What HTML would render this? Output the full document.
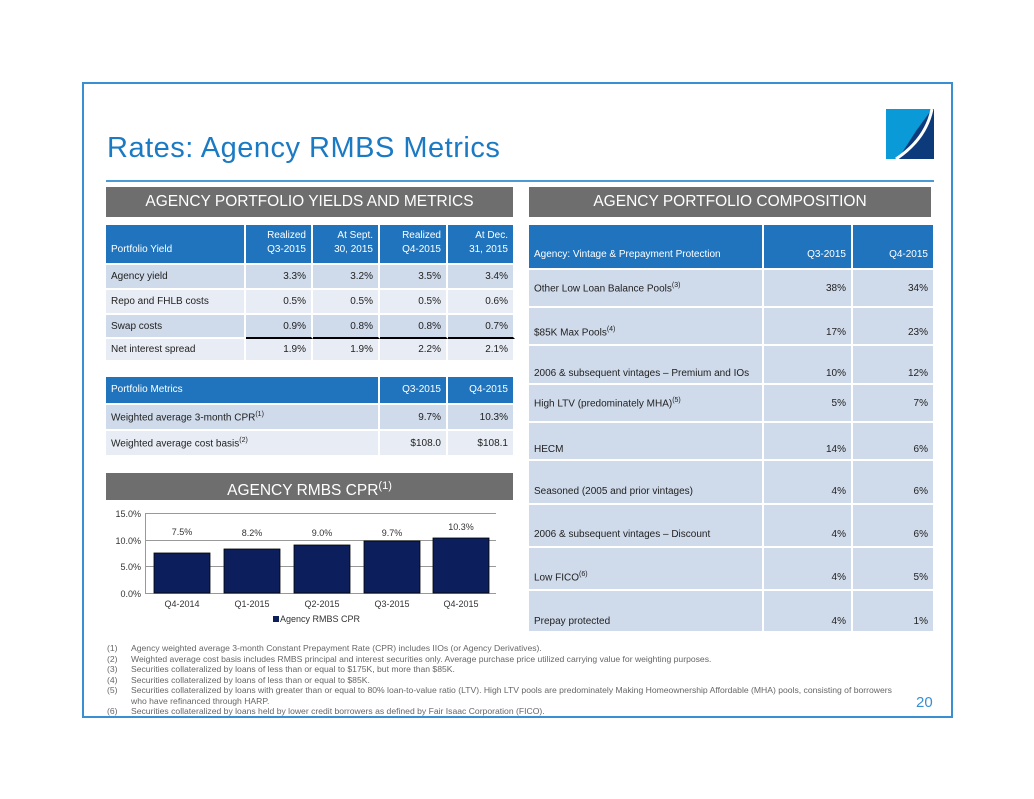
<!DOCTYPE html>
<html><head><meta charset="utf-8"><style>
body{margin:0;width:1034px;height:799px;background:#fff;position:relative;font-family:"Liberation Sans",sans-serif;overflow:hidden}
.a{position:absolute}
.frame{left:82px;top:82px;width:867px;height:632px;border:2px solid #3a8fd0}
.title{left:107px;top:132px;font-size:29px;color:#1a7ac4;letter-spacing:0.5px}
.rule{left:106px;top:180px;width:828px;height:2px;background:#4a9ad6}
.bar{background:#6e6e6e;color:#fff;font-size:15.5px;text-align:center;line-height:30px}
table{border-collapse:separate;border-spacing:0;position:absolute;font-size:10px;color:#222;table-layout:fixed}
td{padding:0 5px;border-right:2px solid #fff;border-bottom:2px solid #fff;text-align:right;white-space:nowrap}
td:first-child{text-align:left}
tr.h td{background:#1f74bd;color:#fff;vertical-align:bottom;padding-bottom:6px;line-height:14px}
tr.d td{background:#cfdaea}
tr.e td{background:#e8edf5}
.fn{left:107px;top:643px;font-size:8.6px;color:#666;line-height:10.5px}
.fn div{position:relative;padding-left:24px}
.fn span{position:absolute;left:0}
</style></head><body>
<div class="a frame"></div>
<div class="a title">Rates: Agency RMBS Metrics</div>
<svg class="a" style="left:886px;top:109px" width="48" height="50"><polygon points="0,0 46,0 46,2 20,50 0,50" fill="#0a9ad8"/><polygon points="46,0 48,0 48,50 12,50 30,22" fill="#0d3a7a"/><path d="M46,0 Q40,30 10,50" stroke="#fff" stroke-width="3" fill="none"/></svg>
<div class="a rule"></div>
<div class="a bar" style="left:106px;top:187px;width:407px;height:30px">AGENCY PORTFOLIO YIELDS AND METRICS</div>
<div class="a bar" style="left:529px;top:187px;width:402px;height:30px">AGENCY PORTFOLIO COMPOSITION</div>
<table style="left:106px;top:225px;width:409px">
<col style="width:140px"><col style="width:67px"><col style="width:67px"><col style="width:68px"><col style="width:67px">
<tr class="h" style="height:40px"><td>Portfolio Yield</td><td>Realized<br>Q3-2015</td><td>At Sept.<br>30, 2015</td><td>Realized<br>Q4-2015</td><td>At Dec.<br>31, 2015</td></tr>
<tr class="d" style="height:25px"><td>Agency yield</td><td>3.3%</td><td>3.2%</td><td>3.5%</td><td>3.4%</td></tr>
<tr class="e" style="height:25px"><td>Repo and FHLB costs</td><td>0.5%</td><td>0.5%</td><td>0.5%</td><td>0.6%</td></tr>
<tr class="d" style="height:24px"><td>Swap costs</td><td style="border-bottom:2px solid #000">0.9%</td><td style="border-bottom:2px solid #000">0.8%</td><td style="border-bottom:2px solid #000">0.8%</td><td style="border-bottom:2px solid #000">0.7%</td></tr>
<tr class="e" style="height:23px"><td>Net interest spread</td><td>1.9%</td><td>1.9%</td><td>2.2%</td><td>2.1%</td></tr>
</table>
<table style="left:106px;top:377px;width:409px">
<col style="width:274px"><col style="width:68px"><col style="width:67px">
<tr class="h" style="height:28px"><td>Portfolio Metrics</td><td>Q3-2015</td><td>Q4-2015</td></tr>
<tr class="d" style="height:26px"><td>Weighted average 3-month CPR<sup style="font-size:7px">(1)</sup></td><td>9.7%</td><td>10.3%</td></tr>
<tr class="e" style="height:26px"><td>Weighted average cost basis<sup style="font-size:7px">(2)</sup></td><td>$108.0</td><td>$108.1</td></tr>
</table>
<table style="left:529px;top:225px;width:406px">
<col style="width:235px"><col style="width:89px"><col style="width:82px">
<tr class="h" style="height:45px"><td>Agency: Vintage &amp; Prepayment Protection</td><td>Q3-2015</td><td>Q4-2015</td></tr>
<tr class="d" style="height:38px"><td>Other Low Loan Balance Pools<sup style="font-size:7px">(3)</sup></td><td>38%</td><td>34%</td></tr>
<tr class="d" style="height:38px"><td style="vertical-align:bottom;padding-bottom:6px">$85K Max Pools<sup style="font-size:7px">(4)</sup></td><td style="vertical-align:bottom;padding-bottom:6px">17%</td><td style="vertical-align:bottom;padding-bottom:6px">23%</td></tr>
<tr class="d" style="height:39px"><td style="vertical-align:bottom;padding-bottom:4px">2006 &amp; subsequent vintages – Premium and IOs</td><td style="vertical-align:bottom;padding-bottom:4px">10%</td><td style="vertical-align:bottom;padding-bottom:4px">12%</td></tr>
<tr class="d" style="height:38px"><td>High LTV (predominately MHA)<sup style="font-size:7px">(5)</sup></td><td>5%</td><td>7%</td></tr>
<tr class="d" style="height:38px"><td style="vertical-align:bottom;padding-bottom:4px">HECM</td><td style="vertical-align:bottom;padding-bottom:4px">14%</td><td style="vertical-align:bottom;padding-bottom:4px">6%</td></tr>
<tr class="d" style="height:44px"><td style="vertical-align:bottom;padding-bottom:6px">Seasoned (2005 and prior vintages)</td><td style="vertical-align:bottom;padding-bottom:6px">4%</td><td style="vertical-align:bottom;padding-bottom:6px">6%</td></tr>
<tr class="d" style="height:43px"><td style="vertical-align:bottom;padding-bottom:6px">2006 &amp; subsequent vintages – Discount</td><td style="vertical-align:bottom;padding-bottom:6px">4%</td><td style="vertical-align:bottom;padding-bottom:6px">6%</td></tr>
<tr class="d" style="height:43px"><td style="vertical-align:bottom;padding-bottom:6px">Low FICO<sup style="font-size:7px">(6)</sup></td><td style="vertical-align:bottom;padding-bottom:6px">4%</td><td style="vertical-align:bottom;padding-bottom:6px">5%</td></tr>
<tr class="d" style="height:42px"><td style="vertical-align:bottom;padding-bottom:4px">Prepay protected</td><td style="vertical-align:bottom;padding-bottom:4px">4%</td><td style="vertical-align:bottom;padding-bottom:4px">1%</td></tr>
</table>
<div class="a bar" style="left:106px;top:473px;width:407px;height:27px;line-height:27px">AGENCY RMBS CPR<sup style="font-size:11px">(1)</sup></div>
<svg class="a" style="left:100px;top:505px" width="420" height="125" font-family="Liberation Sans, sans-serif" font-size="9" fill="#333">
<g stroke="#999" stroke-width="1"><line x1="45" y1="8.5" x2="396" y2="8.5"/><line x1="45" y1="35.5" x2="396" y2="35.5"/><line x1="45" y1="61.5" x2="396" y2="61.5"/><line x1="45" y1="88.5" x2="396" y2="88.5"/><line x1="45.5" y1="8" x2="45.5" y2="88"/></g>
<g text-anchor="end"><text x="41" y="12">15.0%</text><text x="41" y="39">10.0%</text><text x="41" y="65">5.0%</text><text x="41" y="92">0.0%</text></g>
<g fill="#0c1f5c" stroke="#000" stroke-width="0.8"><rect x="54" y="48" width="56" height="40"/><rect x="124" y="44" width="56" height="44"/><rect x="194" y="40" width="56" height="48"/><rect x="264" y="36" width="56" height="52"/><rect x="333" y="33" width="56" height="55"/></g>
<g text-anchor="middle"><text x="82" y="30">7.5%</text><text x="152" y="31">8.2%</text><text x="222" y="31">9.0%</text><text x="292" y="31">9.7%</text><text x="361" y="25">10.3%</text>
<text x="82" y="102">Q4-2014</text><text x="152" y="102">Q1-2015</text><text x="222" y="102">Q2-2015</text><text x="292" y="102">Q3-2015</text><text x="361" y="102">Q4-2015</text></g>
<rect x="173" y="111" width="6" height="6" fill="#0c1f5c"/><text x="180" y="117">Agency RMBS CPR</text>
</svg>
<div class="a fn">
<div><span>(1)</span>Agency weighted average 3-month Constant Prepayment Rate (CPR) includes IIOs (or Agency Derivatives).</div>
<div><span>(2)</span>Weighted average cost basis includes RMBS principal and interest securities only.  Average purchase price utilized carrying value for weighting purposes.</div>
<div><span>(3)</span>Securities collateralized by loans of less than or equal to $175K, but more than $85K.</div>
<div><span>(4)</span>Securities collateralized by loans of less than or equal to $85K.</div>
<div><span>(5)</span>Securities collateralized by loans with greater than or equal to 80% loan-to-value ratio (LTV).  High LTV pools are predominately Making Homeownership Affordable (MHA) pools, consisting of borrowers<br>who have refinanced through HARP.</div>
<div><span>(6)</span>Securities collateralized by loans held by lower credit borrowers as defined by Fair Isaac Corporation (FICO).</div>
</div>
<div class="a" style="left:916px;top:694px;font-size:15px;color:#3a8fd0">20</div>
</body></html>
